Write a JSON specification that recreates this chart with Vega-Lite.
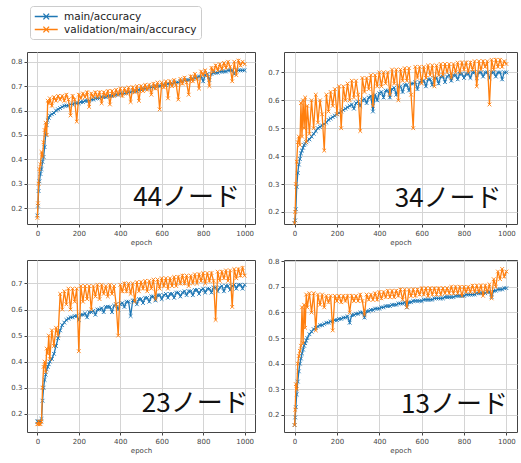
{
"$schema":"https://vega.github.io/schema/vega-lite/v6.json",
"padding":{"left":10,"top":5,"right":2,"bottom":2},
"config":{"font":"DejaVu Sans","view":{"stroke":"#444","strokeWidth":1},
"axis":{"labelFontSize":7,"titleFontSize":7,"labelColor":"#444","titleColor":"#444","titleFontWeight":"normal","gridColor":"#d4d4d4","domain":false,"tickColor":"#444","tickSize":3,"labelPadding":2,"titlePadding":2,"labelOverlap":false},
"line":{"strokeWidth":1.3}},
"data":{"values":[
{"p":"44","e":0,"m":0.17,"v":0.16},{"p":"44","e":3,"m":0.21,"v":0.22},{"p":"44","e":6,"m":0.27,"v":0.30},{"p":"44","e":10,"m":0.31,"v":0.36},{"p":"44","e":15,"m":0.34,"v":0.38},{"p":"44","e":20,"m":0.36,"v":0.43},{"p":"44","e":25,"m":0.39,"v":0.41},{"p":"44","e":30,"m":0.41,"v":0.47},{"p":"44","e":35,"m":0.45,"v":0.52},{"p":"44","e":40,"m":0.50,"v":0.55},{"p":"44","e":45,"m":0.54,"v":0.50},{"p":"44","e":50,"m":0.56,"v":0.64},{"p":"44","e":55,"m":0.57,"v":0.63},{"p":"44","e":60,"m":0.58,"v":0.65},{"p":"44","e":70,"m":0.585,"v":0.62},{"p":"44","e":80,"m":0.59,"v":0.655},{"p":"44","e":90,"m":0.60,"v":0.64},{"p":"44","e":100,"m":0.605,"v":0.66},{"p":"44","e":110,"m":0.61,"v":0.645},{"p":"44","e":120,"m":0.615,"v":0.66},{"p":"44","e":130,"m":0.62,"v":0.64},{"p":"44","e":140,"m":0.62,"v":0.665},{"p":"44","e":150,"m":0.62,"v":0.645},{"p":"44","e":160,"m":0.625,"v":0.58},{"p":"44","e":170,"m":0.625,"v":0.66},{"p":"44","e":180,"m":0.63,"v":0.645},{"p":"44","e":190,"m":0.63,"v":0.555},{"p":"44","e":200,"m":0.63,"v":0.665},{"p":"44","e":210,"m":0.635,"v":0.65},{"p":"44","e":220,"m":0.635,"v":0.67},{"p":"44","e":230,"m":0.64,"v":0.655},{"p":"44","e":240,"m":0.64,"v":0.675},{"p":"44","e":250,"m":0.64,"v":0.615},{"p":"44","e":260,"m":0.645,"v":0.67},{"p":"44","e":270,"m":0.645,"v":0.655},{"p":"44","e":280,"m":0.65,"v":0.675},{"p":"44","e":290,"m":0.65,"v":0.655},{"p":"44","e":300,"m":0.65,"v":0.675},{"p":"44","e":310,"m":0.655,"v":0.63},{"p":"44","e":320,"m":0.655,"v":0.675},{"p":"44","e":330,"m":0.655,"v":0.66},{"p":"44","e":340,"m":0.66,"v":0.68},{"p":"44","e":350,"m":0.66,"v":0.625},{"p":"44","e":360,"m":0.66,"v":0.68},{"p":"44","e":370,"m":0.665,"v":0.66},{"p":"44","e":380,"m":0.665,"v":0.685},{"p":"44","e":390,"m":0.665,"v":0.665},{"p":"44","e":400,"m":0.67,"v":0.69},{"p":"44","e":410,"m":0.67,"v":0.66},{"p":"44","e":420,"m":0.67,"v":0.69},{"p":"44","e":430,"m":0.675,"v":0.67},{"p":"44","e":440,"m":0.675,"v":0.695},{"p":"44","e":450,"m":0.675,"v":0.635},{"p":"44","e":460,"m":0.68,"v":0.695},{"p":"44","e":470,"m":0.68,"v":0.675},{"p":"44","e":480,"m":0.68,"v":0.70},{"p":"44","e":490,"m":0.685,"v":0.64},{"p":"44","e":500,"m":0.685,"v":0.70},{"p":"44","e":510,"m":0.69,"v":0.68},{"p":"44","e":520,"m":0.69,"v":0.705},{"p":"44","e":530,"m":0.69,"v":0.685},{"p":"44","e":540,"m":0.695,"v":0.705},{"p":"44","e":550,"m":0.695,"v":0.665},{"p":"44","e":560,"m":0.695,"v":0.71},{"p":"44","e":570,"m":0.70,"v":0.69},{"p":"44","e":580,"m":0.70,"v":0.715},{"p":"44","e":590,"m":0.70,"v":0.605},{"p":"44","e":600,"m":0.705,"v":0.715},{"p":"44","e":610,"m":0.705,"v":0.695},{"p":"44","e":620,"m":0.705,"v":0.72},{"p":"44","e":630,"m":0.71,"v":0.65},{"p":"44","e":640,"m":0.71,"v":0.72},{"p":"44","e":650,"m":0.71,"v":0.70},{"p":"44","e":660,"m":0.715,"v":0.725},{"p":"44","e":670,"m":0.715,"v":0.705},{"p":"44","e":680,"m":0.715,"v":0.645},{"p":"44","e":690,"m":0.72,"v":0.73},{"p":"44","e":700,"m":0.72,"v":0.71},{"p":"44","e":710,"m":0.725,"v":0.735},{"p":"44","e":720,"m":0.725,"v":0.715},{"p":"44","e":730,"m":0.725,"v":0.665},{"p":"44","e":740,"m":0.73,"v":0.74},{"p":"44","e":750,"m":0.73,"v":0.72},{"p":"44","e":760,"m":0.735,"v":0.75},{"p":"44","e":770,"m":0.735,"v":0.73},{"p":"44","e":780,"m":0.74,"v":0.69},{"p":"44","e":790,"m":0.74,"v":0.76},{"p":"44","e":800,"m":0.72,"v":0.745},{"p":"44","e":810,"m":0.745,"v":0.765},{"p":"44","e":820,"m":0.75,"v":0.745},{"p":"44","e":830,"m":0.725,"v":0.70},{"p":"44","e":840,"m":0.75,"v":0.775},{"p":"44","e":850,"m":0.755,"v":0.76},{"p":"44","e":860,"m":0.755,"v":0.785},{"p":"44","e":870,"m":0.755,"v":0.765},{"p":"44","e":880,"m":0.76,"v":0.79},{"p":"44","e":890,"m":0.76,"v":0.77},{"p":"44","e":900,"m":0.76,"v":0.795},{"p":"44","e":910,"m":0.76,"v":0.775},{"p":"44","e":920,"m":0.765,"v":0.80},{"p":"44","e":930,"m":0.765,"v":0.78},{"p":"44","e":940,"m":0.765,"v":0.72},{"p":"44","e":950,"m":0.75,"v":0.80},{"p":"44","e":960,"m":0.765,"v":0.745},{"p":"44","e":970,"m":0.765,"v":0.805},{"p":"44","e":980,"m":0.765,"v":0.785},{"p":"44","e":990,"m":0.765,"v":0.80},{"p":"44","e":1000,"m":0.765,"v":0.79},
{"p":"34","e":0,"m":0.16,"v":0.16},{"p":"34","e":3,"m":0.17,"v":0.20},{"p":"34","e":6,"m":0.21,"v":0.30},{"p":"34","e":10,"m":0.29,"v":0.38},{"p":"34","e":15,"m":0.34,"v":0.45},{"p":"34","e":20,"m":0.37,"v":0.47},{"p":"34","e":25,"m":0.39,"v":0.44},{"p":"34","e":30,"m":0.41,"v":0.59},{"p":"34","e":35,"m":0.42,"v":0.47},{"p":"34","e":40,"m":0.43,"v":0.60},{"p":"34","e":45,"m":0.44,"v":0.50},{"p":"34","e":50,"m":0.445,"v":0.61},{"p":"34","e":55,"m":0.45,"v":0.45},{"p":"34","e":60,"m":0.455,"v":0.58},{"p":"34","e":70,"m":0.46,"v":0.48},{"p":"34","e":80,"m":0.47,"v":0.60},{"p":"34","e":90,"m":0.48,"v":0.50},{"p":"34","e":100,"m":0.49,"v":0.62},{"p":"34","e":110,"m":0.50,"v":0.52},{"p":"34","e":120,"m":0.505,"v":0.60},{"p":"34","e":130,"m":0.51,"v":0.55},{"p":"34","e":140,"m":0.515,"v":0.42},{"p":"34","e":150,"m":0.52,"v":0.62},{"p":"34","e":160,"m":0.53,"v":0.56},{"p":"34","e":170,"m":0.535,"v":0.63},{"p":"34","e":180,"m":0.54,"v":0.58},{"p":"34","e":190,"m":0.545,"v":0.64},{"p":"34","e":200,"m":0.55,"v":0.55},{"p":"34","e":210,"m":0.555,"v":0.65},{"p":"34","e":220,"m":0.56,"v":0.50},{"p":"34","e":230,"m":0.565,"v":0.65},{"p":"34","e":240,"m":0.57,"v":0.60},{"p":"34","e":250,"m":0.575,"v":0.66},{"p":"34","e":260,"m":0.58,"v":0.60},{"p":"34","e":270,"m":0.585,"v":0.67},{"p":"34","e":280,"m":0.57,"v":0.61},{"p":"34","e":290,"m":0.59,"v":0.67},{"p":"34","e":300,"m":0.595,"v":0.62},{"p":"34","e":310,"m":0.58,"v":0.49},{"p":"34","e":320,"m":0.60,"v":0.68},{"p":"34","e":330,"m":0.605,"v":0.63},{"p":"34","e":340,"m":0.59,"v":0.68},{"p":"34","e":350,"m":0.61,"v":0.64},{"p":"34","e":360,"m":0.615,"v":0.69},{"p":"34","e":370,"m":0.56,"v":0.58},{"p":"34","e":380,"m":0.62,"v":0.69},{"p":"34","e":390,"m":0.60,"v":0.65},{"p":"34","e":400,"m":0.625,"v":0.70},{"p":"34","e":410,"m":0.63,"v":0.65},{"p":"34","e":420,"m":0.61,"v":0.70},{"p":"34","e":430,"m":0.635,"v":0.66},{"p":"34","e":440,"m":0.635,"v":0.70},{"p":"34","e":450,"m":0.61,"v":0.62},{"p":"34","e":460,"m":0.64,"v":0.71},{"p":"34","e":470,"m":0.645,"v":0.66},{"p":"34","e":480,"m":0.62,"v":0.71},{"p":"34","e":490,"m":0.65,"v":0.60},{"p":"34","e":500,"m":0.65,"v":0.71},{"p":"34","e":510,"m":0.63,"v":0.67},{"p":"34","e":520,"m":0.655,"v":0.715},{"p":"34","e":530,"m":0.655,"v":0.67},{"p":"34","e":540,"m":0.635,"v":0.715},{"p":"34","e":550,"m":0.66,"v":0.62},{"p":"34","e":560,"m":0.66,"v":0.50},{"p":"34","e":570,"m":0.665,"v":0.72},{"p":"34","e":580,"m":0.64,"v":0.68},{"p":"34","e":590,"m":0.665,"v":0.72},{"p":"34","e":600,"m":0.67,"v":0.66},{"p":"34","e":610,"m":0.67,"v":0.72},{"p":"34","e":620,"m":0.65,"v":0.68},{"p":"34","e":630,"m":0.675,"v":0.725},{"p":"34","e":640,"m":0.675,"v":0.69},{"p":"34","e":650,"m":0.655,"v":0.725},{"p":"34","e":660,"m":0.68,"v":0.65},{"p":"34","e":670,"m":0.68,"v":0.725},{"p":"34","e":680,"m":0.66,"v":0.69},{"p":"34","e":690,"m":0.685,"v":0.73},{"p":"34","e":700,"m":0.685,"v":0.69},{"p":"34","e":710,"m":0.665,"v":0.73},{"p":"34","e":720,"m":0.685,"v":0.70},{"p":"34","e":730,"m":0.69,"v":0.73},{"p":"34","e":740,"m":0.67,"v":0.68},{"p":"34","e":750,"m":0.69,"v":0.73},{"p":"34","e":760,"m":0.69,"v":0.70},{"p":"34","e":770,"m":0.675,"v":0.735},{"p":"34","e":780,"m":0.695,"v":0.70},{"p":"34","e":790,"m":0.695,"v":0.735},{"p":"34","e":800,"m":0.68,"v":0.71},{"p":"34","e":810,"m":0.695,"v":0.735},{"p":"34","e":820,"m":0.695,"v":0.70},{"p":"34","e":830,"m":0.68,"v":0.735},{"p":"34","e":840,"m":0.70,"v":0.71},{"p":"34","e":850,"m":0.70,"v":0.74},{"p":"34","e":860,"m":0.68,"v":0.65},{"p":"34","e":870,"m":0.70,"v":0.74},{"p":"34","e":880,"m":0.70,"v":0.71},{"p":"34","e":890,"m":0.685,"v":0.74},{"p":"34","e":900,"m":0.70,"v":0.72},{"p":"34","e":910,"m":0.70,"v":0.74},{"p":"34","e":920,"m":0.68,"v":0.585},{"p":"34","e":930,"m":0.70,"v":0.745},{"p":"34","e":940,"m":0.70,"v":0.71},{"p":"34","e":950,"m":0.685,"v":0.745},{"p":"34","e":960,"m":0.70,"v":0.72},{"p":"34","e":970,"m":0.70,"v":0.745},{"p":"34","e":980,"m":0.675,"v":0.72},{"p":"34","e":990,"m":0.70,"v":0.74},{"p":"34","e":1000,"m":0.70,"v":0.73},
{"p":"23","e":0,"m":0.17,"v":0.16},{"p":"23","e":3,"m":0.17,"v":0.16},{"p":"23","e":6,"m":0.17,"v":0.17},{"p":"23","e":10,"m":0.17,"v":0.16},{"p":"23","e":15,"m":0.17,"v":0.16},{"p":"23","e":20,"m":0.18,"v":0.17},{"p":"23","e":25,"m":0.25,"v":0.30},{"p":"23","e":30,"m":0.30,"v":0.38},{"p":"23","e":35,"m":0.33,"v":0.40},{"p":"23","e":40,"m":0.35,"v":0.36},{"p":"23","e":45,"m":0.37,"v":0.45},{"p":"23","e":50,"m":0.38,"v":0.43},{"p":"23","e":55,"m":0.39,"v":0.50},{"p":"23","e":60,"m":0.40,"v":0.41},{"p":"23","e":70,"m":0.41,"v":0.52},{"p":"23","e":80,"m":0.43,"v":0.46},{"p":"23","e":90,"m":0.46,"v":0.53},{"p":"23","e":100,"m":0.49,"v":0.50},{"p":"23","e":110,"m":0.52,"v":0.66},{"p":"23","e":120,"m":0.54,"v":0.60},{"p":"23","e":130,"m":0.55,"v":0.67},{"p":"23","e":140,"m":0.56,"v":0.62},{"p":"23","e":150,"m":0.565,"v":0.68},{"p":"23","e":160,"m":0.57,"v":0.60},{"p":"23","e":170,"m":0.57,"v":0.68},{"p":"23","e":180,"m":0.575,"v":0.63},{"p":"23","e":190,"m":0.575,"v":0.68},{"p":"23","e":200,"m":0.56,"v":0.44},{"p":"23","e":210,"m":0.58,"v":0.69},{"p":"23","e":220,"m":0.58,"v":0.63},{"p":"23","e":230,"m":0.585,"v":0.69},{"p":"23","e":240,"m":0.57,"v":0.64},{"p":"23","e":250,"m":0.59,"v":0.69},{"p":"23","e":260,"m":0.59,"v":0.60},{"p":"23","e":270,"m":0.595,"v":0.69},{"p":"23","e":280,"m":0.58,"v":0.65},{"p":"23","e":290,"m":0.60,"v":0.695},{"p":"23","e":300,"m":0.60,"v":0.64},{"p":"23","e":310,"m":0.605,"v":0.695},{"p":"23","e":320,"m":0.59,"v":0.66},{"p":"23","e":330,"m":0.61,"v":0.69},{"p":"23","e":340,"m":0.61,"v":0.65},{"p":"23","e":350,"m":0.61,"v":0.695},{"p":"23","e":360,"m":0.59,"v":0.66},{"p":"23","e":370,"m":0.615,"v":0.69},{"p":"23","e":380,"m":0.62,"v":0.62},{"p":"23","e":390,"m":0.60,"v":0.50},{"p":"23","e":400,"m":0.62,"v":0.695},{"p":"23","e":410,"m":0.625,"v":0.67},{"p":"23","e":420,"m":0.61,"v":0.70},{"p":"23","e":430,"m":0.63,"v":0.67},{"p":"23","e":440,"m":0.63,"v":0.70},{"p":"23","e":450,"m":0.575,"v":0.66},{"p":"23","e":460,"m":0.635,"v":0.70},{"p":"23","e":470,"m":0.635,"v":0.63},{"p":"23","e":480,"m":0.62,"v":0.705},{"p":"23","e":490,"m":0.64,"v":0.67},{"p":"23","e":500,"m":0.64,"v":0.705},{"p":"23","e":510,"m":0.625,"v":0.68},{"p":"23","e":520,"m":0.645,"v":0.71},{"p":"23","e":530,"m":0.645,"v":0.67},{"p":"23","e":540,"m":0.63,"v":0.71},{"p":"23","e":550,"m":0.65,"v":0.68},{"p":"23","e":560,"m":0.65,"v":0.715},{"p":"23","e":570,"m":0.635,"v":0.64},{"p":"23","e":580,"m":0.655,"v":0.715},{"p":"23","e":590,"m":0.655,"v":0.68},{"p":"23","e":600,"m":0.64,"v":0.72},{"p":"23","e":610,"m":0.655,"v":0.69},{"p":"23","e":620,"m":0.66,"v":0.72},{"p":"23","e":630,"m":0.645,"v":0.68},{"p":"23","e":640,"m":0.66,"v":0.72},{"p":"23","e":650,"m":0.66,"v":0.69},{"p":"23","e":660,"m":0.645,"v":0.725},{"p":"23","e":670,"m":0.665,"v":0.69},{"p":"23","e":680,"m":0.665,"v":0.725},{"p":"23","e":690,"m":0.65,"v":0.70},{"p":"23","e":700,"m":0.665,"v":0.73},{"p":"23","e":710,"m":0.67,"v":0.70},{"p":"23","e":720,"m":0.655,"v":0.73},{"p":"23","e":730,"m":0.67,"v":0.69},{"p":"23","e":740,"m":0.67,"v":0.73},{"p":"23","e":750,"m":0.655,"v":0.70},{"p":"23","e":760,"m":0.675,"v":0.735},{"p":"23","e":770,"m":0.675,"v":0.70},{"p":"23","e":780,"m":0.66,"v":0.735},{"p":"23","e":790,"m":0.675,"v":0.71},{"p":"23","e":800,"m":0.68,"v":0.74},{"p":"23","e":810,"m":0.665,"v":0.70},{"p":"23","e":820,"m":0.68,"v":0.74},{"p":"23","e":830,"m":0.68,"v":0.71},{"p":"23","e":840,"m":0.665,"v":0.74},{"p":"23","e":850,"m":0.685,"v":0.71},{"p":"23","e":860,"m":0.685,"v":0.56},{"p":"23","e":870,"m":0.67,"v":0.745},{"p":"23","e":880,"m":0.685,"v":0.71},{"p":"23","e":890,"m":0.69,"v":0.745},{"p":"23","e":900,"m":0.67,"v":0.72},{"p":"23","e":910,"m":0.69,"v":0.75},{"p":"23","e":920,"m":0.69,"v":0.71},{"p":"23","e":930,"m":0.675,"v":0.75},{"p":"23","e":940,"m":0.69,"v":0.61},{"p":"23","e":950,"m":0.695,"v":0.755},{"p":"23","e":960,"m":0.68,"v":0.72},{"p":"23","e":970,"m":0.695,"v":0.755},{"p":"23","e":980,"m":0.695,"v":0.73},{"p":"23","e":990,"m":0.68,"v":0.76},{"p":"23","e":1000,"m":0.695,"v":0.73},
{"p":"13","e":0,"m":0.16,"v":0.16},{"p":"13","e":3,"m":0.19,"v":0.22},{"p":"13","e":6,"m":0.23,"v":0.32},{"p":"13","e":10,"m":0.28,"v":0.30},{"p":"13","e":15,"m":0.33,"v":0.40},{"p":"13","e":20,"m":0.37,"v":0.43},{"p":"13","e":25,"m":0.40,"v":0.45},{"p":"13","e":30,"m":0.42,"v":0.47},{"p":"13","e":35,"m":0.44,"v":0.62},{"p":"13","e":40,"m":0.455,"v":0.48},{"p":"13","e":45,"m":0.47,"v":0.63},{"p":"13","e":50,"m":0.48,"v":0.54},{"p":"13","e":55,"m":0.49,"v":0.67},{"p":"13","e":60,"m":0.50,"v":0.62},{"p":"13","e":70,"m":0.515,"v":0.675},{"p":"13","e":80,"m":0.525,"v":0.60},{"p":"13","e":90,"m":0.535,"v":0.675},{"p":"13","e":100,"m":0.54,"v":0.53},{"p":"13","e":110,"m":0.545,"v":0.67},{"p":"13","e":120,"m":0.55,"v":0.63},{"p":"13","e":130,"m":0.55,"v":0.67},{"p":"13","e":140,"m":0.555,"v":0.62},{"p":"13","e":150,"m":0.56,"v":0.665},{"p":"13","e":160,"m":0.56,"v":0.64},{"p":"13","e":170,"m":0.565,"v":0.665},{"p":"13","e":180,"m":0.565,"v":0.53},{"p":"13","e":190,"m":0.57,"v":0.665},{"p":"13","e":200,"m":0.57,"v":0.645},{"p":"13","e":210,"m":0.575,"v":0.665},{"p":"13","e":220,"m":0.575,"v":0.64},{"p":"13","e":230,"m":0.58,"v":0.665},{"p":"13","e":240,"m":0.58,"v":0.645},{"p":"13","e":250,"m":0.585,"v":0.665},{"p":"13","e":260,"m":0.56,"v":0.60},{"p":"13","e":270,"m":0.59,"v":0.665},{"p":"13","e":280,"m":0.59,"v":0.645},{"p":"13","e":290,"m":0.595,"v":0.665},{"p":"13","e":300,"m":0.595,"v":0.645},{"p":"13","e":310,"m":0.60,"v":0.67},{"p":"13","e":320,"m":0.60,"v":0.645},{"p":"13","e":330,"m":0.58,"v":0.59},{"p":"13","e":340,"m":0.605,"v":0.67},{"p":"13","e":350,"m":0.605,"v":0.65},{"p":"13","e":360,"m":0.61,"v":0.67},{"p":"13","e":370,"m":0.61,"v":0.65},{"p":"13","e":380,"m":0.615,"v":0.675},{"p":"13","e":390,"m":0.615,"v":0.65},{"p":"13","e":400,"m":0.615,"v":0.68},{"p":"13","e":410,"m":0.62,"v":0.655},{"p":"13","e":420,"m":0.62,"v":0.68},{"p":"13","e":430,"m":0.625,"v":0.66},{"p":"13","e":440,"m":0.625,"v":0.685},{"p":"13","e":450,"m":0.625,"v":0.66},{"p":"13","e":460,"m":0.63,"v":0.685},{"p":"13","e":470,"m":0.63,"v":0.66},{"p":"13","e":480,"m":0.63,"v":0.685},{"p":"13","e":490,"m":0.635,"v":0.665},{"p":"13","e":500,"m":0.635,"v":0.69},{"p":"13","e":510,"m":0.635,"v":0.65},{"p":"13","e":520,"m":0.64,"v":0.69},{"p":"13","e":530,"m":0.62,"v":0.62},{"p":"13","e":540,"m":0.64,"v":0.69},{"p":"13","e":550,"m":0.64,"v":0.665},{"p":"13","e":560,"m":0.645,"v":0.69},{"p":"13","e":570,"m":0.645,"v":0.665},{"p":"13","e":580,"m":0.645,"v":0.69},{"p":"13","e":590,"m":0.645,"v":0.67},{"p":"13","e":600,"m":0.645,"v":0.695},{"p":"13","e":610,"m":0.65,"v":0.67},{"p":"13","e":620,"m":0.65,"v":0.695},{"p":"13","e":630,"m":0.65,"v":0.665},{"p":"13","e":640,"m":0.65,"v":0.695},{"p":"13","e":650,"m":0.65,"v":0.67},{"p":"13","e":660,"m":0.655,"v":0.695},{"p":"13","e":670,"m":0.655,"v":0.67},{"p":"13","e":680,"m":0.655,"v":0.695},{"p":"13","e":690,"m":0.655,"v":0.67},{"p":"13","e":700,"m":0.655,"v":0.695},{"p":"13","e":710,"m":0.66,"v":0.675},{"p":"13","e":720,"m":0.66,"v":0.695},{"p":"13","e":730,"m":0.66,"v":0.675},{"p":"13","e":740,"m":0.66,"v":0.70},{"p":"13","e":750,"m":0.66,"v":0.675},{"p":"13","e":760,"m":0.665,"v":0.70},{"p":"13","e":770,"m":0.665,"v":0.675},{"p":"13","e":780,"m":0.665,"v":0.70},{"p":"13","e":790,"m":0.665,"v":0.665},{"p":"13","e":800,"m":0.665,"v":0.70},{"p":"13","e":810,"m":0.67,"v":0.68},{"p":"13","e":820,"m":0.67,"v":0.70},{"p":"13","e":830,"m":0.67,"v":0.68},{"p":"13","e":840,"m":0.67,"v":0.705},{"p":"13","e":850,"m":0.67,"v":0.68},{"p":"13","e":860,"m":0.675,"v":0.705},{"p":"13","e":870,"m":0.675,"v":0.68},{"p":"13","e":880,"m":0.675,"v":0.705},{"p":"13","e":890,"m":0.675,"v":0.665},{"p":"13","e":900,"m":0.675,"v":0.705},{"p":"13","e":910,"m":0.68,"v":0.68},{"p":"13","e":920,"m":0.68,"v":0.71},{"p":"13","e":930,"m":0.66,"v":0.655},{"p":"13","e":940,"m":0.685,"v":0.73},{"p":"13","e":950,"m":0.685,"v":0.70},{"p":"13","e":960,"m":0.69,"v":0.76},{"p":"13","e":970,"m":0.69,"v":0.73},{"p":"13","e":980,"m":0.69,"v":0.77},{"p":"13","e":990,"m":0.695,"v":0.74},{"p":"13","e":1000,"m":0.695,"v":0.76}
]},
"spacing":10,
"vconcat":[
{"hconcat":[
{"width":228,"height":172,"transform":[{"filter":"datum.p=='44'"}],"layer":[
{"mark":{"type":"line","point":{"shape":"M-1,-1L1,1M-1,1L1,-1","filled":false,"size":14,"strokeWidth":0.9}},"encoding":{"x":{"field":"e","type":"quantitative","title":"epoch","scale":{"domain":[-50,1050],"nice":false},"axis":{"values":[0,200,400,600,800,1000],"format":"d"}},"y":{"field":"m","type":"quantitative","title":null,"scale":{"domain":[0.135,0.84],"nice":false,"zero":false},"axis":{"values":[0.2,0.3,0.4,0.5,0.6,0.7,0.8],"format":".1f"}},"color":{"datum":"m","scale":{"domain":["m","v"],"range":["#1f77b4","#ff7f0e"]},"legend":{"orient":"none","legendX":3,"legendY":-46,"direction":"vertical","title":null,"labelExpr":"datum.value=='m'?'main/accuracy':'validation/main/accuracy'","symbolType":"M-1,0H3M0.5,-0.5L1.5,0.5M0.5,0.5L1.5,-0.5","symbolSize":132,"symbolStrokeWidth":1.4,"symbolFillColor":"transparent","labelOffset":17,"strokeColor":"#ccc","padding":4,"cornerRadius":3,"labelFontSize":10.5,"labelColor":"#222","rowPadding":1}}}},
{"mark":{"type":"line","point":{"shape":"M-1,-1L1,1M-1,1L1,-1","filled":false,"size":14,"strokeWidth":0.9}},"encoding":{"x":{"field":"e","type":"quantitative","title":"epoch","scale":{"domain":[-50,1050],"nice":false},"axis":{"values":[0,200,400,600,800,1000],"format":"d"}},"y":{"field":"v","type":"quantitative","title":null,"scale":{"domain":[0.135,0.84],"nice":false,"zero":false},"axis":{"values":[0.2,0.3,0.4,0.5,0.6,0.7,0.8],"format":".1f"}},"color":{"datum":"v"}}},
{"data":{"values":[{"lab":"44ノード"}]},"mark":{"type":"text","fontSize":26,"font":"Noto Sans CJK JP","color":"#111","align":"center","baseline":"middle"},"encoding":{"x":{"datum":720,"type":"quantitative","title":"epoch","scale":{"domain":[-50,1050],"nice":false},"axis":{"values":[0,200,400,600,800,1000],"format":"d"}},"y":{"datum":0.24,"type":"quantitative","title":null,"scale":{"domain":[0.135,0.84],"nice":false,"zero":false},"axis":{"values":[0.2,0.3,0.4,0.5,0.6,0.7,0.8],"format":".1f"}},"text":{"field":"lab"}}}
]},
{"width":233,"height":172,"transform":[{"filter":"datum.p=='34'"}],"layer":[
{"mark":{"type":"line","point":{"shape":"M-1,-1L1,1M-1,1L1,-1","filled":false,"size":14,"strokeWidth":0.9}},"encoding":{"x":{"field":"e","type":"quantitative","title":"epoch","scale":{"domain":[-50,1050],"nice":false},"axis":{"values":[0,200,400,600,800,1000],"format":"d"}},"y":{"field":"m","type":"quantitative","title":null,"scale":{"domain":[0.157,0.773],"nice":false,"zero":false},"axis":{"values":[0.2,0.3,0.4,0.5,0.6,0.7],"format":".1f"}},"color":{"datum":"m"}}},
{"mark":{"type":"line","point":{"shape":"M-1,-1L1,1M-1,1L1,-1","filled":false,"size":14,"strokeWidth":0.9}},"encoding":{"x":{"field":"e","type":"quantitative","title":"epoch","scale":{"domain":[-50,1050],"nice":false},"axis":{"values":[0,200,400,600,800,1000],"format":"d"}},"y":{"field":"v","type":"quantitative","title":null,"scale":{"domain":[0.157,0.773],"nice":false,"zero":false},"axis":{"values":[0.2,0.3,0.4,0.5,0.6,0.7],"format":".1f"}},"color":{"datum":"v"}}},
{"data":{"values":[{"lab":"34ノード"}]},"mark":{"type":"text","fontSize":26,"font":"Noto Sans CJK JP","color":"#111","align":"center","baseline":"middle"},"encoding":{"x":{"datum":725,"type":"quantitative","title":"epoch","scale":{"domain":[-50,1050],"nice":false},"axis":{"values":[0,200,400,600,800,1000],"format":"d"}},"y":{"datum":0.247,"type":"quantitative","title":null,"scale":{"domain":[0.157,0.773],"nice":false,"zero":false},"axis":{"values":[0.2,0.3,0.4,0.5,0.6,0.7],"format":".1f"}},"text":{"field":"lab"}}}
]}
],"spacing":11},
{"hconcat":[
{"width":228,"height":172,"transform":[{"filter":"datum.p=='23'"}],"layer":[
{"mark":{"type":"line","point":{"shape":"M-1,-1L1,1M-1,1L1,-1","filled":false,"size":14,"strokeWidth":0.9}},"encoding":{"x":{"field":"e","type":"quantitative","title":"epoch","scale":{"domain":[-50,1050],"nice":false},"axis":{"values":[0,200,400,600,800,1000],"format":"d"}},"y":{"field":"m","type":"quantitative","title":null,"scale":{"domain":[0.13,0.79],"nice":false,"zero":false},"axis":{"values":[0.2,0.3,0.4,0.5,0.6,0.7],"format":".1f"}},"color":{"datum":"m"}}},
{"mark":{"type":"line","point":{"shape":"M-1,-1L1,1M-1,1L1,-1","filled":false,"size":14,"strokeWidth":0.9}},"encoding":{"x":{"field":"e","type":"quantitative","title":"epoch","scale":{"domain":[-50,1050],"nice":false},"axis":{"values":[0,200,400,600,800,1000],"format":"d"}},"y":{"field":"v","type":"quantitative","title":null,"scale":{"domain":[0.13,0.79],"nice":false,"zero":false},"axis":{"values":[0.2,0.3,0.4,0.5,0.6,0.7],"format":".1f"}},"color":{"datum":"v"}}},
{"data":{"values":[{"lab":"23ノード"}]},"mark":{"type":"text","fontSize":26,"font":"Noto Sans CJK JP","color":"#111","align":"center","baseline":"middle"},"encoding":{"x":{"datum":762,"type":"quantitative","title":"epoch","scale":{"domain":[-50,1050],"nice":false},"axis":{"values":[0,200,400,600,800,1000],"format":"d"}},"y":{"datum":0.238,"type":"quantitative","title":null,"scale":{"domain":[0.13,0.79],"nice":false,"zero":false},"axis":{"values":[0.2,0.3,0.4,0.5,0.6,0.7],"format":".1f"}},"text":{"field":"lab"}}}
]},
{"width":233,"height":172,"transform":[{"filter":"datum.p=='13'"}],"layer":[
{"mark":{"type":"line","point":{"shape":"M-1,-1L1,1M-1,1L1,-1","filled":false,"size":14,"strokeWidth":0.9}},"encoding":{"x":{"field":"e","type":"quantitative","title":"epoch","scale":{"domain":[-50,1050],"nice":false},"axis":{"values":[0,200,400,600,800,1000],"format":"d"}},"y":{"field":"m","type":"quantitative","title":null,"scale":{"domain":[0.133,0.805],"nice":false,"zero":false},"axis":{"values":[0.2,0.3,0.4,0.5,0.6,0.7,0.8],"format":".1f"}},"color":{"datum":"m"}}},
{"mark":{"type":"line","point":{"shape":"M-1,-1L1,1M-1,1L1,-1","filled":false,"size":14,"strokeWidth":0.9}},"encoding":{"x":{"field":"e","type":"quantitative","title":"epoch","scale":{"domain":[-50,1050],"nice":false},"axis":{"values":[0,200,400,600,800,1000],"format":"d"}},"y":{"field":"v","type":"quantitative","title":null,"scale":{"domain":[0.133,0.805],"nice":false,"zero":false},"axis":{"values":[0.2,0.3,0.4,0.5,0.6,0.7,0.8],"format":".1f"}},"color":{"datum":"v"}}},
{"data":{"values":[{"lab":"13ノード"}]},"mark":{"type":"text","fontSize":26,"font":"Noto Sans CJK JP","color":"#111","align":"center","baseline":"middle"},"encoding":{"x":{"datum":755,"type":"quantitative","title":"epoch","scale":{"domain":[-50,1050],"nice":false},"axis":{"values":[0,200,400,600,800,1000],"format":"d"}},"y":{"datum":0.24,"type":"quantitative","title":null,"scale":{"domain":[0.133,0.805],"nice":false,"zero":false},"axis":{"values":[0.2,0.3,0.4,0.5,0.6,0.7,0.8],"format":".1f"}},"text":{"field":"lab"}}}
]}
],"spacing":11}
]
}
